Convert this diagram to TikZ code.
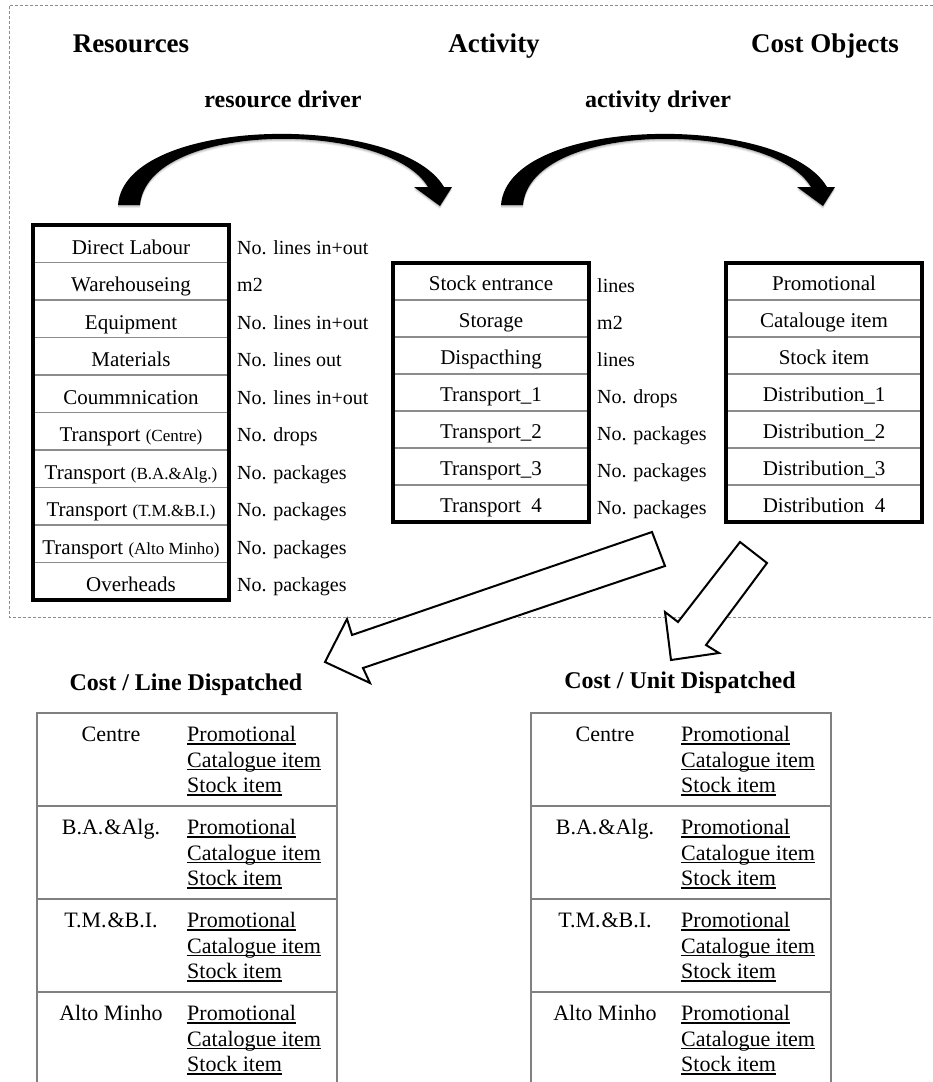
\documentclass[tikz,border=0pt]{standalone}
\usepackage{fontspec}
\setmainfont{Liberation Serif}
\newcommand\paren[1]{{\fontsize{17}{20}\selectfont #1}}
\newsavebox\ulbox
\newcommand\ulword[1]{\sbox\ulbox{#1}\rlap{\rule[-3pt]{\wd\ulbox}{1.1pt}}\usebox\ulbox}
\tikzset{
  rowtext/.style={anchor=base, inner sep=0pt, font=\fontsize{21}{25}\selectfont},
  drvtext/.style={anchor=base west, inner sep=0pt, font=\fontsize{20}{24}\selectfont},
  bigtitle/.style={anchor=base, inner sep=0pt, font=\fontsize{27}{32}\selectfont\bfseries},
  midtitle/.style={anchor=base, inner sep=0pt, font=\fontsize{24}{28}\selectfont\bfseries},
  listtext/.style={inner sep=0pt, font=\fontsize{22}{26}\selectfont},
  boxedge/.style={line width=4pt},
  rowrule/.style={line width=1.2pt, black!45},
  tablerule/.style={line width=1.5pt, black!50},
  blockarrow/.style={draw=black, fill=white, line width=2pt, line join=miter},
  framerule/.style={draw=black!45, line width=1pt, dash pattern=on 3pt off 2pt},
  curvearrow/.pic={
    % soft shadow layers first, then the solid arrow
    \foreach \s/\o in {3/0.07,2/0.09,1/0.12,0/1}
      \fill[black, opacity=\o, yshift=-\s pt]
        (118,205) .. controls (125,115) and (400,112) .. (444,187)
        -- (452,187) -- (440,206) -- (414,187) -- (428,187)
        .. controls (388,120) and (148,120) .. (140,205) -- cycle;
  }
}
\begin{document}
\begin{tikzpicture}[x=1pt,y=-1pt]
\useasboundingbox[fill=white] (0,0) rectangle (933,1082);

% dashed frame round the model
\draw[framerule] (933,5) -- (9,5) -- (9,617) -- (933,617);

% headings
\node[bigtitle] (resources) at (131,52) {Resources};
\node[bigtitle] (activity) at (494,52) {Activity};
\node[bigtitle] (costobjects) at (825,52) {Cost Objects};
\node[midtitle] (resdriver) at (283,107) {resource driver};
\node[midtitle] (actdriver) at (658,107) {activity driver};

% bent driver arrows
\pic (resbend) at (0,0) {curvearrow};
\pic (actbend) at (383,0) {curvearrow};

% resources table with resource drivers
\foreach \k in {1,...,9}
  \draw[rowrule] (33,225+37.5*\k) -- (229,225+37.5*\k);
\draw[boxedge] (33,225) rectangle (229,600);
\foreach \res/\drv [count=\i from 0] in {
    Direct Labour/No. lines in+out,
    Warehouseing/m2,
    Equipment/No. lines in+out,
    Materials/No. lines out,
    Coummnication/No. lines in+out,
    Transport \paren{(Centre)}/No. drops,
    Transport \paren{(B.A.\&Alg.)}/No. packages,
    Transport \paren{(T.M.\&B.I.)}/No. packages,
    Transport \paren{(Alto Minho)}/No. packages,
    Overheads/No. packages}{
  \node[rowtext] (res\i) at (131,254+37.5*\i) {\res};
  \node[drvtext] (resdrv\i) at (237,254+37.5*\i) {\drv};
}

% activity table with activity drivers
\foreach \k in {1,...,6}
  \draw[rowrule] (393,263+37*\k) -- (589,263+37*\k);
\draw[boxedge] (393,263) rectangle (589,522);
\foreach \act/\drv [count=\i from 0] in {
    Stock entrance/lines,
    Storage/m2,
    Dispacthing/lines,
    Transport\_1/No. drops,
    Transport\_2/No. packages,
    Transport\_3/No. packages,
    Transport\phantom{\_}4/No. packages}{
  \node[rowtext] (act\i) at (491,290.5+37*\i) {\act};
  \node[drvtext] (actdrv\i) at (597,292+37*\i) {\drv};
}

% cost objects table
\foreach \k in {1,...,6}
  \draw[rowrule] (726,263+37*\k) -- (922,263+37*\k);
\draw[boxedge] (726,263) rectangle (922,522);
\foreach \obj [count=\i from 0] in {
    Promotional, Catalouge item, Stock item,
    Distribution\_1, Distribution\_2, Distribution\_3,
    Distribution\phantom{\_}4}{
  \node[rowtext] (obj\i) at (824,290.5+37*\i) {\obj};
}

% hollow arrows to the two cost reports
\draw[blockarrow] (652,532) -- (665,566) -- (363,668) -- (370,683)
  -- (325,662) -- (347,619) -- (352,635) -- cycle;
\draw[blockarrow] (740,542) -- (767,563) -- (706,645) -- (719,653)
  -- (671,660) -- (665,612) -- (678,622) -- cycle;

% cost reports
\node[midtitle] (perline) at (186,690) {Cost / Line Dispatched};
\node[midtitle] (perunit) at (680,688) {Cost / Unit Dispatched};

\foreach \rep/\dx in {line/0,unit/494}{
  \draw[tablerule] (37+\dx,1095) -- (37+\dx,713) -- (337+\dx,713) -- (337+\dx,1095);
  \foreach \k in {1,2,3}
    \draw[tablerule] (37+\dx,713+93*\k) -- (337+\dx,713+93*\k);
  \foreach \reg [count=\r from 0] in {Centre, B.A.\kern1pt\&Alg., T.M.\kern1pt\&B.I., Alto Minho}{
    \node[listtext, anchor=base] (\rep-reg\r) at (111+\dx,741.5+93*\r) {\reg};
    \foreach \item [count=\j from 0] in {Promotional, Catalogue item, Stock item}
      \node[listtext, anchor=base west] (\rep-item\r\j)
        at (187+\dx,741.5+93*\r+25.5*\j) {\ulword{\item}};
  }
}
\end{tikzpicture}
\end{document}
